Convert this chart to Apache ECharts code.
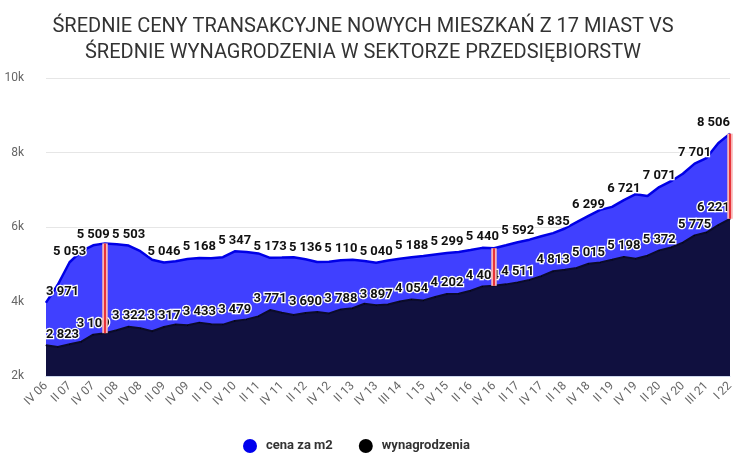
<!DOCTYPE html>
<html>
<head>
<meta charset="utf-8">
<script src="https://cdn.jsdelivr.net/npm/echarts@6/dist/echarts.min.js"></script>
<style>
html,body{margin:0;padding:0;background:#fff;}
#chart{width:750px;height:461px;}
</style>
</head>
<body>
<div id="chart"></div>
<script>
const categories = ['IV 06','I 07','II 07','III 07','IV 07','I 08','II 08','III 08','IV 08','I 09','II 09','III 09','IV 09','I 10','II 10','III 10','IV 10','I 11','II 11','III 11','IV 11','I 12','II 12','III 12','IV 12','I 13','II 13','III 13','IV 13','II 14','III 14','IV 14','I 15','III 15','IV 15','I 16','II 16','III 16','IV 16','I 17','II 17','III 17','IV 17','I 18','II 18','III 18','IV 18','I 19','II 19','III 19','IV 19','I 20','II 20','III 20','IV 20','II 21','III 21','IV 21','I 22'];

const priceValues = [3971,4450,5053,5350,5509,5560,5540,5503,5350,5120,5046,5080,5140,5168,5160,5190,5347,5330,5290,5173,5180,5190,5136,5060,5070,5110,5120,5090,5040,5100,5150,5188,5220,5260,5299,5330,5380,5440,5430,5510,5592,5660,5750,5835,5960,6130,6299,6460,6540,6721,6880,6830,7071,7230,7430,7701,7850,8250,8506];

const wageValues = [2823,2780,2850,2920,3109,3150,3230,3322,3280,3200,3317,3380,3360,3433,3390,3380,3479,3520,3600,3771,3700,3640,3690,3720,3680,3788,3820,3940,3897,3920,4000,4054,4030,4120,4202,4210,4290,4404,4420,4460,4511,4580,4680,4813,4850,4900,5015,5050,5120,5198,5150,5230,5372,5450,5580,5775,5850,6050,6221];

const priceLabelIdx = [0,2,4,7,10,13,16,19,22,25,28,31,34,37,40,43,46,49,52,55,58];
const wageLabelIdx = [0,4,7,10,13,16,19,22,25,28,31,34,37,40,43,46,49,52,55,58];
const compareIdx = [5,38,58];

const yTicks = {min:2000, max:10000, interval:2000};
const seriesNames = ['cena za m2','wynagrodzenia'];
const titleText = 'ŚREDNIE CENY TRANSAKCYJNE NOWYCH MIESZKAŃ Z 17 MIAST VS\nŚREDNIE WYNAGRODZENIA W SEKTORZE PRZEDSIĘBIORSTW';

function fmt(v){ return String(v).replace(/\B(?=(\d{3})+(?!\d))/g,' '); }
const last = categories.length - 1;
function labelFor(i, list){
  if (list.indexOf(i) < 0) return {show:false};
  if (i === 0) return {show:true, align:'left', offset:[-5,0]};
  if (i === last) return {show:true, align:'right', offset:[7,0]};
  return {show:true};
}
const labelStyle = {
  show:false, position:'top', distance:4,
  fontFamily:'Roboto', fontSize:13, fontWeight:'bold', color:'#111',
  textBorderColor:'#fff', textBorderWidth:2.5,
  formatter: p => fmt(p.value)
};

const markData = [];
compareIdx.forEach(i => {
  markData.push([{coord:[i, priceValues[i]], lineStyle:{color:'#f8b4b4', width:5.5, type:'solid'}}, {coord:[i, wageValues[i]]}]);
});
compareIdx.forEach(i => {
  markData.push([{coord:[i, priceValues[i]], lineStyle:{color:'#e8333a', width:2, type:'solid'}}, {coord:[i, wageValues[i]]}]);
});

const chart = echarts.init(document.getElementById('chart'));
chart.setOption({
  animation:false,
  title:{
    text:titleText, left:358, top:9, textAlign:'center',
    textStyle:{fontFamily:'Roboto', fontSize:20, fontWeight:'normal', color:'#333', lineHeight:26}
  },
  legend:{
    data:seriesNames, left:238, top:434, icon:'circle', itemWidth:14, itemHeight:14, itemGap:26,
    textStyle:{fontFamily:'Roboto', fontSize:13, fontWeight:'bold', color:'#333', padding:[0,0,0,4]}
  },
  grid:{left:46, right:20, top:78, bottom:85, containLabel:false},
  xAxis:{
    type:'category', data:categories, boundaryGap:false,
    axisTick:{show:false},
    axisLine:{lineStyle:{color:'#ccd6eb'}},
    axisLabel:{rotate:45, interval:1, color:'#666', fontFamily:'Roboto', fontSize:12, margin:8}
  },
  yAxis:{
    type:'value', min:yTicks.min, max:yTicks.max, interval:yTicks.interval,
    axisLine:{show:false}, axisTick:{show:false},
    splitLine:{lineStyle:{color:'#e6e6e6'}},
    axisLabel:{color:'#666', fontFamily:'Roboto', fontSize:12, margin:22, formatter: v => (v/1000)+'k'}
  },
  series:[
    {
      name:seriesNames[0], type:'line', color:'#0000ee',
      data: priceValues.map((v,i)=>({value:v, label:labelFor(i, priceLabelIdx)})),
      symbol:'circle', symbolSize:1, showSymbol:true, showAllSymbol:true,
      lineStyle:{color:'#0000e6', width:2.5},
      itemStyle:{color:'#0000ee'},
      areaStyle:{color:'#4040ff', opacity:1},
      label:labelStyle, labelLayout:{hideOverlap:false},
      emphasis:{disabled:true}, z:2
    },
    {
      name:seriesNames[1], type:'line', color:'#000',
      data: wageValues.map((v,i)=>({value:v, label:labelFor(i, wageLabelIdx)})),
      symbol:'circle', symbolSize:1, showSymbol:true, showAllSymbol:true,
      lineStyle:{color:'#0b0b2a', width:2},
      itemStyle:{color:'#000'},
      areaStyle:{color:'#10103f', opacity:1},
      label:labelStyle, labelLayout:{hideOverlap:false},
      emphasis:{disabled:true}, z:3,
      markLine:{
        silent:true, symbol:['none','none'], label:{show:false}, z:10,
        emphasis:{disabled:true}, animation:false,
        data:markData
      }
    }
  ]
});
</script>
</body>
</html>
